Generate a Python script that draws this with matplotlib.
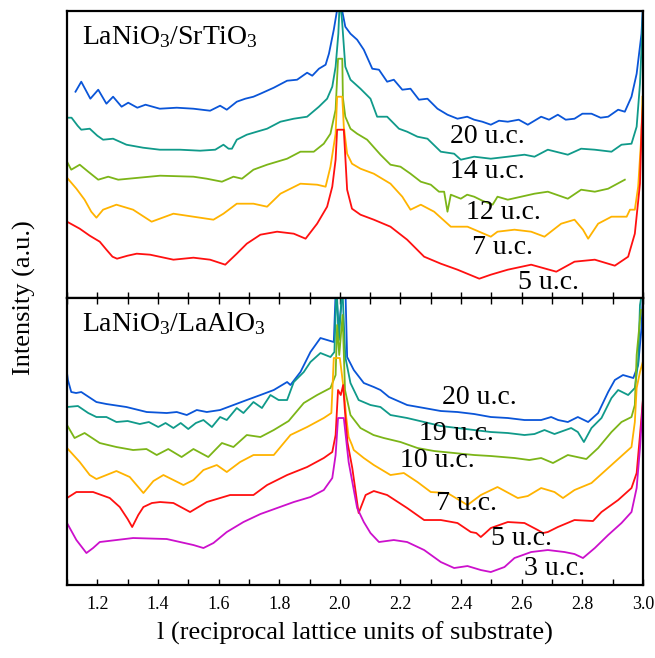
import matplotlib
matplotlib.use('Agg')
import matplotlib.pyplot as plt
from matplotlib.ticker import MultipleLocator

plt.rcParams['font.family'] = 'Liberation Serif'
plt.rcParams['mathtext.fontset'] = 'custom'
plt.rcParams['mathtext.rm'] = 'Liberation Serif'
plt.rcParams['mathtext.it'] = 'Liberation Serif:italic'

# colours used for the thickness series
c_blue = '#0a55d8'
c_teal = '#109a8a'
c_green = '#7cb518'
c_orange = '#ffb300'
c_red = '#ff1010'
c_mag = '#cc10cc'

# ---- LaNiO3/SrTiO3 (top panel), intensity in arbitrary units ----
sto20_l = [1.128, 1.147, 1.177, 1.203, 1.230, 1.252, 1.280, 1.302, 1.332, 1.359, 1.406, 1.462, 1.517,
           1.572, 1.605, 1.627, 1.660, 1.688, 1.715, 1.738, 1.782, 1.826, 1.859, 1.892, 1.909, 1.931,
           1.953, 1.964, 1.980, 1.991, 2.000, 2.007, 2.018, 2.035, 2.057, 2.079, 2.107, 2.129, 2.156,
           2.178, 2.206, 2.233, 2.261, 2.289, 2.322, 2.355, 2.388, 2.420, 2.443, 2.470, 2.498, 2.525,
           2.554, 2.590, 2.620, 2.664, 2.690, 2.719, 2.745, 2.774, 2.800, 2.830, 2.860, 2.885, 2.918,
           2.940, 2.962, 2.979, 2.995, 3.001]
sto20_i = [206, 216, 199, 208, 194, 201, 191, 195, 190, 193, 189, 190, 189,
           187, 192, 188, 196, 199, 201, 204, 210, 217, 218, 225, 222, 229,
           233, 244, 268, 288, 300, 288, 271, 264, 258, 248, 229, 228, 216,
           218, 208, 209, 198, 199, 189, 183, 179, 181, 178, 176, 173, 177,
           176, 178, 173, 181, 178, 183, 178, 179, 184, 184, 180, 181, 188,
           186, 201, 224, 264, 300]

sto14_l = [1.100, 1.115, 1.135, 1.147, 1.175, 1.200, 1.219, 1.252, 1.296, 1.351, 1.406, 1.473,
           1.539, 1.589, 1.616, 1.633, 1.644, 1.660, 1.693, 1.726, 1.760, 1.804, 1.848, 1.892, 1.931,
           1.958, 1.975, 1.986, 1.995, 2.000, 2.007, 2.018, 2.035, 2.068, 2.101, 2.123, 2.156, 2.195,
           2.222, 2.256, 2.289, 2.333, 2.377, 2.399, 2.443, 2.498, 2.554, 2.609, 2.642, 2.686, 2.752,
           2.796, 2.841, 2.896, 2.929, 2.962, 2.979, 2.990, 2.997, 3.001]
sto14_i = [180, 180, 172, 168, 169, 162, 158, 159, 153, 150, 148, 148,
           147, 148, 153, 149, 149, 158, 163, 166, 169, 176, 179, 181, 191,
           199, 211, 231, 264, 300, 278, 231, 218, 209, 199, 181, 181, 169,
           166, 161, 159, 146, 144, 138, 141, 139, 141, 143, 141, 148, 143,
           149, 148, 146, 153, 154, 171, 214, 264, 300]

sto12_l = [1.100, 1.114, 1.142, 1.170, 1.203, 1.236, 1.269, 1.407, 1.517, 1.561, 1.611, 1.649, 1.677,
           1.715, 1.760, 1.826, 1.870, 1.914, 1.947, 1.969, 1.986, 1.994, 2.008, 2.010, 2.018, 2.035,
           2.057, 2.090, 2.134, 2.167, 2.200, 2.233, 2.267, 2.300, 2.327, 2.344, 2.355, 2.366, 2.399,
           2.420, 2.443, 2.470, 2.504, 2.520, 2.554, 2.598, 2.642, 2.686, 2.752, 2.796, 2.841, 2.885,
           2.940]
sto12_i = [136, 128, 133, 126, 118, 121, 118, 122, 121, 119, 116, 121, 119,
           128, 133, 139, 146, 146, 154, 164, 188, 239, 239, 200, 181, 169,
           164, 158, 143, 133, 131, 124, 116, 113, 106, 106, 86, 103, 99,
           103, 101, 97, 93, 101, 98, 101, 104, 106, 99, 108, 106, 109,
           118]

sto7_l = [1.100, 1.131, 1.158, 1.180, 1.197, 1.219, 1.263, 1.318, 1.379, 1.451, 1.517, 1.583, 1.616,
          1.660, 1.715, 1.760, 1.804, 1.870, 1.925, 1.953, 1.969, 1.986, 1.991, 2.008, 2.013, 2.024,
          2.040, 2.068, 2.112, 2.167, 2.206, 2.233, 2.267, 2.311, 2.366, 2.421, 2.498, 2.520, 2.576,
          2.631, 2.675, 2.730, 2.774, 2.802, 2.819, 2.852, 2.896, 2.946, 2.957, 2.973, 2.984, 2.995,
          2.998]
sto7_i = [120, 109, 98, 86, 80, 88, 93, 88, 76, 84, 81, 78, 84,
          94, 94, 91, 104, 114, 113, 111, 131, 164, 201, 201, 171, 144,
          134, 129, 124, 114, 101, 88, 93, 86, 71, 71, 61, 66, 68,
          66, 61, 74, 78, 68, 59, 74, 81, 81, 88, 88, 111, 164,
          201]

sto5_l = [1.100, 1.142, 1.175, 1.208, 1.230, 1.250, 1.265, 1.300, 1.330, 1.374, 1.451, 1.517, 1.572,
          1.622, 1.660, 1.693, 1.738, 1.793, 1.848, 1.887, 1.925, 1.958, 1.975, 1.986, 1.991, 2.013,
          2.018, 2.024, 2.040, 2.068, 2.112, 2.167, 2.222, 2.278, 2.333, 2.388, 2.460, 2.498, 2.554,
          2.631, 2.714, 2.774, 2.841, 2.907, 2.951, 2.973, 2.990, 2.995, 3.001]
sto5_i = [76, 69, 62, 56, 48, 41, 39, 42, 44, 43, 38, 40, 38,
          33, 44, 54, 63, 66, 64, 59, 74, 91, 111, 138, 168, 168,
          141, 108, 89, 83, 78, 71, 58, 41, 34, 28, 19, 23, 28,
          33, 26, 36, 38, 32, 41, 64, 114, 168, 201]

# ---- LaNiO3/LaAlO3 (bottom panel) ----
lao20_l = [1.100, 1.103, 1.114, 1.130, 1.147, 1.197, 1.230, 1.296, 1.363, 1.429, 1.462, 1.495, 1.528,
           1.561, 1.605, 1.649, 1.693, 1.738, 1.782, 1.826, 1.837, 1.870, 1.903, 1.936, 1.958, 1.980,
           1.987, 1.996, 2.012, 2.018, 2.024, 2.046, 2.079, 2.112, 2.134, 2.162, 2.222, 2.278, 2.333,
           2.388, 2.443, 2.498, 2.554, 2.609, 2.664, 2.697, 2.720, 2.752, 2.785, 2.819, 2.852, 2.885,
           2.907, 2.934, 2.968, 2.984, 2.995, 3.001]
lao20_i = [212, 205, 193, 192, 193, 183, 181, 178, 173, 172, 173, 170, 175,
           173, 175, 180, 185, 190, 195, 203, 200, 213, 233, 247, 245, 243,
           300, 255, 300, 300, 228, 215, 202, 198, 195, 188, 180, 177, 174,
           173, 171, 168, 167, 165, 165, 168, 165, 163, 168, 163, 172, 193,
           205, 210, 207, 220, 257, 300]

lao19_l = [1.100, 1.136, 1.170, 1.197, 1.230, 1.263, 1.300, 1.340, 1.370, 1.401, 1.425, 1.451, 1.475,
           1.500, 1.525, 1.550, 1.578, 1.605, 1.627, 1.660, 1.682, 1.715, 1.743, 1.771, 1.798, 1.826,
           1.848, 1.881, 1.903, 1.936, 1.969, 1.982, 1.989, 1.997, 2.008, 2.018, 2.035, 2.062, 2.101,
           2.134, 2.167, 2.222, 2.278, 2.333, 2.388, 2.443, 2.498, 2.554, 2.609, 2.642, 2.675,
           2.708, 2.763, 2.785, 2.805, 2.830, 2.863, 2.896, 2.918, 2.951, 2.973, 2.984, 2.990, 3.001]
lao19_i = [178, 179, 172, 168, 168, 163, 164, 161, 163, 158, 162, 157, 162,
           156, 162, 165, 158, 168, 165, 177, 172, 183, 177, 190, 185, 185,
           203, 213, 223, 232, 228, 233, 300, 245, 300, 228, 202, 185, 180,
           178, 170, 167, 163, 159, 157, 155, 153, 152, 150, 151, 155,
           151, 157, 153, 143, 157, 167, 187, 195, 190, 197, 223, 280, 300]

lao10_l = [1.100, 1.125, 1.158, 1.208, 1.263, 1.318, 1.362, 1.396, 1.434, 1.478, 1.517, 1.566, 1.611,
           1.649, 1.693, 1.738, 1.782, 1.831, 1.881, 1.925, 1.969, 1.986, 1.991, 1.998, 2.009, 2.017,
           2.035, 2.068, 2.111, 2.145, 2.200, 2.256, 2.311, 2.377, 2.443, 2.498, 2.576, 2.625,
           2.664, 2.703, 2.752, 2.813, 2.852, 2.896, 2.929, 2.962, 2.973, 2.979, 2.993]
lao10_i = [160, 147, 152, 142, 138, 135, 136, 130, 136, 128, 136, 128, 142,
           138, 150, 148, 155, 164, 182, 190, 197, 210, 260, 230, 270, 195,
           170, 157, 150, 147, 143, 137, 134, 132, 130, 129, 127, 125,
           127, 122, 130, 126, 137, 153, 163, 168, 180, 230, 275]

lao7_l = [1.100, 1.142, 1.175, 1.197, 1.263, 1.307, 1.352, 1.385, 1.418, 1.484, 1.517, 1.550, 1.594,
          1.627, 1.671, 1.715, 1.782, 1.837, 1.892, 1.947, 1.972, 1.980, 2.000, 2.013, 2.021, 2.029,
          2.040, 2.046, 2.079, 2.112, 2.167, 2.211, 2.256, 2.300, 2.355, 2.421, 2.465, 2.520, 2.587,
          2.620, 2.664, 2.708, 2.736, 2.774, 2.830, 2.885, 2.940, 2.962, 2.973, 2.979, 2.990, 3.001]
lao7_i = [137, 123, 110, 106, 114, 108, 92, 104, 110, 100, 105, 115, 120,
          113, 123, 130, 130, 150, 158, 167, 172, 227, 227, 195, 168, 148,
          140, 135, 127, 120, 110, 112, 103, 93, 92, 80, 90, 98, 87,
          89, 97, 93, 87, 95, 102, 117, 132, 138, 163, 197, 213, 225]

lao5_l = [1.100, 1.131, 1.186, 1.241, 1.274, 1.300, 1.315, 1.335, 1.352, 1.380, 1.407, 1.451, 1.506,
          1.561, 1.638, 1.715, 1.760, 1.826, 1.892, 1.947, 1.975, 1.986, 1.994, 2.003, 2.011, 2.016,
          2.025, 2.041, 2.062, 2.085, 2.112, 2.156, 2.222, 2.278, 2.333, 2.388, 2.432, 2.450, 2.465,
          2.480, 2.498, 2.554, 2.609, 2.653, 2.670, 2.686, 2.719, 2.774, 2.835, 2.863, 2.918, 2.962,
          2.979, 2.990, 3.001]
lao5_i = [87, 93, 93, 87, 78, 66, 58, 70, 78, 82, 83, 82, 73,
          83, 90, 90, 100, 110, 118, 127, 133, 150, 195, 190, 200, 177,
          143, 117, 72, 90, 94, 90, 77, 65, 65, 62, 53, 52, 48,
          52, 57, 63, 62, 55, 52, 53, 58, 65, 64, 73, 85, 97,
          112, 150, 190]

lao3_l = [1.100, 1.131, 1.164, 1.186, 1.208, 1.318, 1.429, 1.517, 1.550, 1.583, 1.627, 1.682, 1.738,
          1.793, 1.848, 1.903, 1.947, 1.975, 1.986, 1.994, 2.013, 2.029, 2.057, 2.079, 2.101, 2.129,
          2.178, 2.222, 2.278, 2.333, 2.377, 2.421, 2.465, 2.498, 2.543, 2.576, 2.631, 2.686, 2.741,
          2.774, 2.802, 2.841, 2.885, 2.929, 2.962, 2.979, 2.990, 3.001]
lao3_i = [62, 45, 32, 37, 43, 47, 46, 40, 37, 42, 53, 63, 71,
          77, 83, 88, 95, 107, 130, 167, 167, 123, 77, 63, 52, 43,
          45, 43, 35, 23, 17, 19, 15, 13, 18, 27, 33, 35, 33,
          31, 27, 37, 50, 62, 73, 97, 137, 190]

top_series = [(sto20_l, sto20_i, c_blue, '20 u.c.', 2.488, 161),
              (sto14_l, sto14_i, c_teal, '14 u.c.', 2.488, 126),
              (sto12_l, sto12_i, c_green, '12 u.c.', 2.538, 85),
              (sto7_l, sto7_i, c_orange, '7 u.c.', 2.538, 50),
              (sto5_l, sto5_i, c_red, '5 u.c.', 2.687, 15)]
bot_series = [(lao20_l, lao20_i, c_blue, '20 u.c.', 2.460, 188),
              (lao19_l, lao19_i, c_teal, '19 u.c.', 2.384, 152),
              (lao10_l, lao10_i, c_green, '10 u.c.', 2.323, 125),
              (lao7_l, lao7_i, c_orange, '7 u.c.', 2.417, 82),
              (lao5_l, lao5_i, c_red, '5 u.c.', 2.599, 47),
              (lao3_l, lao3_i, c_mag, '3 u.c.', 2.709, 17)]

fig = plt.figure(figsize=(6.55, 6.58), dpi=100)
ax1 = fig.add_axes([0.1023, 0.5476, 0.8794, 0.4361])
ax2 = fig.add_axes([0.1023, 0.1109, 0.8794, 0.4362])

for ax, series, title in [(ax1, top_series, r'LaNiO$_3$/SrTiO$_3$'),
                          (ax2, bot_series, r'LaNiO$_3$/LaAlO$_3$')]:
    for l, i, col, lab, lx, ly in series:
        ax.plot(l, i, color=col, lw=1.3, solid_joinstyle='round')
        ax.text(lx, ly, lab, fontsize=20, ha='center', va='center')
    ax.text(1.15, 254, title, fontsize=20, va='baseline')
    ax.set_xlim(1.1, 3.0)
    ax.set_ylim(0, 287)
    ax.set_yticks([])
    ax.xaxis.set_major_locator(MultipleLocator(0.2))
    ax.xaxis.set_minor_locator(MultipleLocator(0.1))
    ax.tick_params(axis='x', which='both', direction='in', length=4.5, width=1.0,
                   labelsize=13, pad=8)
    for s in ax.spines.values():
        s.set_linewidth(1.6)

ax1.tick_params(axis='x', which='both', labelbottom=False)
ax2.tick_params(axis='x', which='both', top=True)
ax2.set_xticks([1.2, 1.4, 1.6, 1.8, 2.0, 2.2, 2.4, 2.6, 2.8, 3.0])
ax2.set_xticklabels(['1.2', '1.4', '1.6', '1.8', '2.0', '2.2', '2.4', '2.6', '2.8', '3.0'])
ax2.set_xlabel('l (reciprocal lattice units of substrate)', fontsize=19, labelpad=6)
fig.text(0.038, 0.548, 'Intensity (a.u.)', fontsize=19, rotation=90, ha='center', va='center')

fig.savefig('out.png', dpi=100)
